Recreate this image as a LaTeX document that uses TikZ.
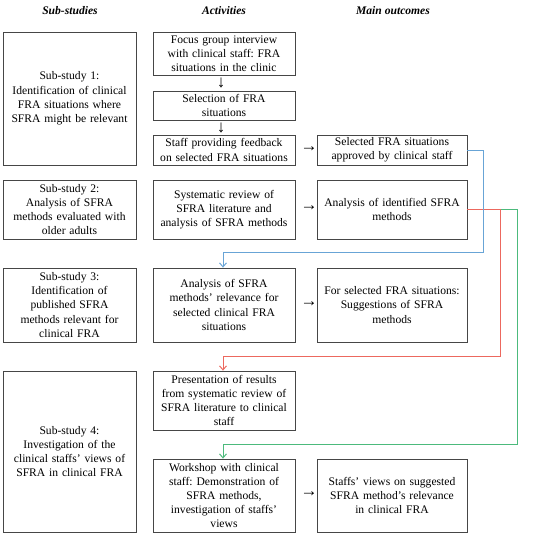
\documentclass[tikz,border=0pt]{standalone}
\usepackage{fontspec}
\setmainfont{Liberation Serif}
\usetikzlibrary{arrows.meta}
\definecolor{boxgray}{RGB}{70,70,70}
\definecolor{cblue}{RGB}{104,164,214}
\definecolor{cred}{RGB}{236,104,94}
\definecolor{cgreen}{RGB}{76,186,124}
\frenchspacing
\begin{document}
\begin{tikzpicture}[x=1pt,y=-1pt,
  every node/.style={font=\fontsize{11.6}{14.2}\selectfont, inner sep=0pt},
  box/.style={draw=boxgray, line width=0.8pt, align=center, text=black},
  lbox/.style={box, minimum width=133pt, text width=131pt},
  mbox/.style={box, minimum width=142pt, text width=140pt},
  rbox/.style={box, minimum width=150pt, text width=148pt},
  head/.style={font=\fontsize{11.6}{14.2}\selectfont\bfseries\itshape},
  glyph/.style={font=\fontsize{17}{18}\selectfont},
  conn/.style={line width=1pt, -{Straight Barb[length=4pt,width=7pt]}}
]
\useasboundingbox (0,0) rectangle (550,536);
% headers
\node[head] (h1) at (70,11) {Sub-studies};
\node[head] (h2) at (224,11) {Activities};
\node[head] (h3) at (393,11) {Main outcomes};
% left column
\node[lbox, minimum height=133pt] (L1) at (69.5,98.5) {Sub-study 1:\\Identification of clinical\\FRA situations where\\SFRA might be relevant};
\node[lbox, minimum height=59pt] (L2) at (69.5,209.5) {Sub-study 2:\\Analysis of SFRA\\methods evaluated with\\older adults};
\node[lbox, minimum height=74pt] (L3) at (69.5,305) {Sub-study 3:\\Identification of\\published SFRA\\methods relevant for\\clinical FRA};
\node[lbox, minimum height=161pt] (L4) at (69.5,451.5) {Sub-study 4:\\Investigation of the\\clinical staffs’ views of\\SFRA in clinical FRA};
% middle column
\node[mbox, minimum height=43pt] (M1) at (224,53.5) {Focus group interview\\with clinical staff: FRA\\situations in the clinic};
\node[mbox, minimum height=29pt] (M2) at (224,105.5) {Selection of FRA\\situations};
\node[mbox, minimum height=30pt] (M3) at (224,150) {Staff providing feedback\\on selected FRA situations};
\node[mbox, minimum height=59pt] (M4) at (224,209.5) {Systematic review of\\SFRA literature and\\analysis of SFRA methods};
\node[mbox, minimum height=74pt] (M5) at (224,305) {Analysis of SFRA\\methods’ relevance for\\selected clinical FRA\\situations};
\node[mbox, minimum height=59pt] (M6) at (224,400.5) {Presentation of results\\from systematic review of\\SFRA literature to clinical\\staff};
\node[mbox, minimum height=73pt] (M7) at (224,495.5) {Workshop with clinical\\staff: Demonstration of\\SFRA methods,\\investigation of staffs’\\views};
% right column
\node[rbox, minimum height=30pt] (R1) at (392,150) {Selected FRA situations\\approved by clinical staff};
\node[rbox, minimum height=59pt] (R2) at (392,209.5) {Analysis of identified SFRA\\methods};
\node[rbox, minimum height=74pt] (R3) at (392,305) {For selected FRA situations:\\Suggestions of SFRA\\methods};
\node[rbox, minimum height=73pt] (R4) at (392,495.5) {Staffs’ views on suggested\\SFRA method’s relevance\\in clinical FRA};
% glyph arrows
\node[glyph] (d1) at (221,83) {↓};
\node[glyph] (d2) at (221,128) {↓};
\node[glyph] (a1) at (309,149) {→};
\node[glyph] (a2) at (309,208.5) {→};
\node[glyph] (a3) at (309,304) {→};
\node[glyph] (a4) at (309,494.5) {→};
% coloured connectors
\coordinate (g1) at (517,444);
\coordinate (r1) at (500,356);
\coordinate (b1) at (483,252);
\draw[conn, cgreen] (R2.east) -| (g1) -| ([xshift=-1pt]M7.north);
\draw[conn, cred] (R2.east) -| (r1) -| ([xshift=-1pt]M6.north);
\draw[conn, cblue] (R1.east) -| (b1) -| ([xshift=-1pt]M5.north);
\end{tikzpicture}
\end{document}
